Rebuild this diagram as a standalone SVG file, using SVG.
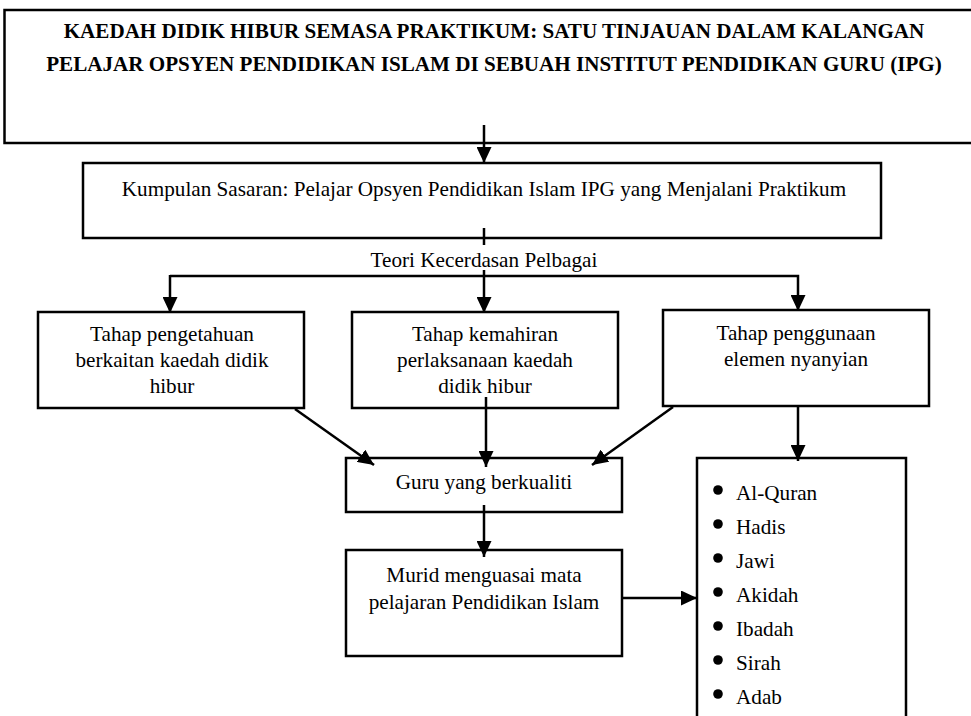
<svg xmlns="http://www.w3.org/2000/svg" width="971" height="716" viewBox="0 0 971 716">
<style>
text{font-family:'Liberation Serif','Times New Roman',Times,serif;fill:#000}
.box{fill:#fff;stroke:#000;stroke-width:2.5}
.t{font-size:21.2px;text-anchor:middle}
.tb{font-size:21.1px;font-weight:bold;text-anchor:middle}
.li{font-size:21.2px}
.c{fill:none;stroke:#000;stroke-width:2.5}
</style>
<defs>
<marker id="ah" markerUnits="userSpaceOnUse" markerWidth="16" markerHeight="15" refX="16" refY="7.5" orient="auto">
<path d="M0,0 L16,7.5 L0,15 z" fill="#000"/>
</marker>
</defs>
<rect width="971" height="716" fill="#fff"/>
<g id="title">
<rect class="box" x="4.5" y="10" width="990" height="133"/>
<text class="tb" x="494" y="38">KAEDAH DIDIK HIBUR SEMASA PRAKTIKUM: SATU TINJAUAN DALAM KALANGAN</text>
<text class="tb" x="494" y="71">PELAJAR OPSYEN PENDIDIKAN ISLAM DI SEBUAH INSTITUT PENDIDIKAN GURU (IPG)</text>
</g>
<g id="sasaran">
<rect class="box" x="83" y="163" width="798" height="75"/>
<text class="t" x="484" y="196">Kumpulan Sasaran: Pelajar Opsyen Pendidikan Islam IPG yang Menjalani Praktikum</text>
</g>
<g id="teori">
<text class="t" x="484" y="267">Teori Kecerdasan Pelbagai</text>
</g>
<g id="pengetahuan">
<rect class="box" x="38" y="312" width="266" height="96"/>
<text class="t" x="172" y="341">Tahap pengetahuan</text>
<text class="t" x="172" y="367">berkaitan kaedah didik</text>
<text class="t" x="172" y="393">hibur</text>
</g>
<g id="kemahiran">
<rect class="box" x="352" y="312" width="266" height="96"/>
<text class="t" x="485" y="341">Tahap kemahiran</text>
<text class="t" x="485" y="367">perlaksanaan kaedah</text>
<text class="t" x="485" y="393">didik hibur</text>
</g>
<g id="nyanyian">
<rect class="box" x="663" y="310" width="266" height="96"/>
<text class="t" x="796" y="340">Tahap penggunaan</text>
<text class="t" x="796" y="366">elemen nyanyian</text>
</g>
<g id="guru">
<rect class="box" x="346" y="458" width="276" height="54"/>
<text class="t" x="484" y="489">Guru yang berkualiti</text>
</g>
<g id="murid">
<rect class="box" x="346" y="550" width="276" height="106"/>
<text class="t" x="484" y="582">Murid menguasai mata</text>
<text class="t" x="484" y="609">pelajaran Pendidikan Islam</text>
</g>
<g id="subjek">
<path class="c" d="M697,725 V458 H906 V725"/>
<g fill="#000">
<circle cx="718" cy="490" r="4.8"/>
<circle cx="718" cy="524" r="4.8"/>
<circle cx="718" cy="558" r="4.8"/>
<circle cx="718" cy="592" r="4.8"/>
<circle cx="718" cy="626" r="4.8"/>
<circle cx="718" cy="660" r="4.8"/>
<circle cx="718" cy="694" r="4.8"/>
</g>
<text class="li" x="736" y="500">Al-Quran</text>
<text class="li" x="736" y="534">Hadis</text>
<text class="li" x="736" y="568">Jawi</text>
<text class="li" x="736" y="602">Akidah</text>
<text class="li" x="736" y="636">Ibadah</text>
<text class="li" x="736" y="670">Sirah</text>
<text class="li" x="736" y="704">Adab</text>
</g>
<g id="connectors">
<line class="c" x1="484" y1="125" x2="484" y2="163" marker-end="url(#ah)"/>
<line class="c" x1="484" y1="228" x2="484" y2="245"/>
<line class="c" x1="484" y1="270" x2="484" y2="313" marker-end="url(#ah)"/>
<polyline class="c" points="170,276 798,276 798,311" marker-end="url(#ah)"/>
<line class="c" x1="170" y1="275" x2="170" y2="313" marker-end="url(#ah)"/>
<line class="c" x1="295" y1="409" x2="374" y2="465" marker-end="url(#ah)"/>
<line class="c" x1="486" y1="397" x2="486" y2="467" marker-end="url(#ah)"/>
<line class="c" x1="673" y1="407" x2="592" y2="465" marker-end="url(#ah)"/>
<line class="c" x1="484" y1="505" x2="484" y2="557" marker-end="url(#ah)"/>
<line class="c" x1="622" y1="598" x2="697" y2="598" marker-end="url(#ah)"/>
<line class="c" x1="798" y1="406" x2="798" y2="461" marker-end="url(#ah)"/>
</g>
</svg>
